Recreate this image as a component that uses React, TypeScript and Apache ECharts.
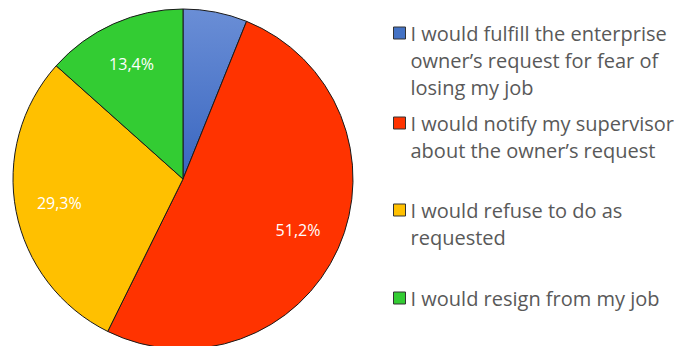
import React, { useEffect, useRef } from "react";
import * as echarts from "echarts";

const categories = [
  "I would fulfill the enterprise owner’s request for fear of losing my job",
  "I would notify my supervisor about the owner’s request",
  "I would refuse to do as requested",
  "I would resign from my job",
];
const values = [6.1, 51.2, 29.3, 13.4];
const colors = ["#4472C4", "#FF3300", "#FFC000", "#33CC33"];
const legendLines = [
  ["I would fulfill the enterprise", "owner’s request for fear of", "losing my job"],
  ["I would notify my supervisor", "about the owner’s request"],
  ["I would refuse to do as", "requested"],
  ["I would resign from my job"],
];
const legendFirstLineY = [33, 123, 210, 298];
const showLabel = [false, true, true, true];

export default function App() {
  const ref = useRef<HTMLDivElement>(null);
  useEffect(() => {
    if (!ref.current) return;
    const chart = echarts.init(ref.current, null, { renderer: "svg" });
    const LH = 27;
    const font = "'Open Sans', sans-serif";
    const legends = categories.map((name, i) => {
      const n = legendLines[i].length;
      const blank: string[] = [];
      for (let k = 1; k < n; k++) blank.push(" ");
      return {
        left: 393,
        top: legendFirstLineY[i] - ((2 * n - 1) * LH) / 2,
        orient: "vertical",
        padding: 0,
        itemWidth: 12,
        itemHeight: 12,
        selectedMode: false,
        data: [
          {
            name,
            icon: "rect",
            itemStyle: { color: colors[i], borderColor: "#333", borderWidth: 1 },
          },
        ],
        formatter: () => blank.concat(legendLines[i]).join("\n"),
        textStyle: {
          fontFamily: font,
          fontSize: 20,
          color: "#595959",
          lineHeight: LH,
        },
      };
    });
    const mainData = categories.map((name, i) => ({
      name,
      value: values[i],
      itemStyle: {
        color:
          i === 0
            ? new echarts.graphic.LinearGradient(0, 0, 0, 1, [
                { offset: 0, color: "#6A8ED6" },
                { offset: 1, color: "#3966C0" },
              ])
            : colors[i],
      },
    }));
    const labelData = categories.map((name, i) => ({
      name,
      value: values[i],
      label: { show: showLabel[i] },
    }));
    chart.setOption({
      animation: false,
      legend: legends,
      series: [
        {
          type: "pie",
          center: [183, 179],
          radius: 170,
          startAngle: 90,
          clockwise: true,
          silent: true,
          label: { show: false },
          labelLine: { show: false },
          itemStyle: { borderColor: "#1a1a1a", borderWidth: 1 },
          data: mainData,
        },
        {
          type: "pie",
          center: [183, 179],
          radius: [96, 150],
          startAngle: 90,
          clockwise: true,
          silent: true,
          itemStyle: { color: "rgba(0,0,0,0)", borderWidth: 0 },
          label: {
            position: "inside",
            color: "#ffffff",
            fontFamily: font,
            fontSize: 16,
            formatter: (p: any) => String(p.value.toFixed(1)).replace(".", ",") + "%",
          },
          labelLine: { show: false },
          data: labelData,
        },
      ],
    });
    return () => chart.dispose();
  }, []);
  return (
    <div
      ref={ref}
      style={{ position: "fixed", left: 0, top: 0, width: 674, height: 346, background: "#fff" }}
    />
  );
}
